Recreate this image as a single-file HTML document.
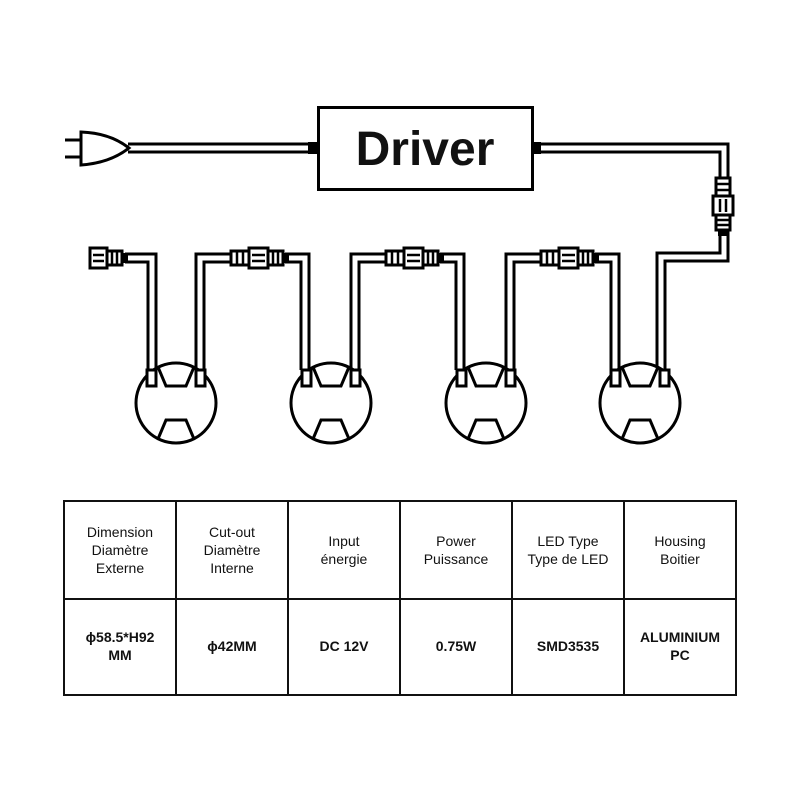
<!DOCTYPE html>
<html><head><meta charset="utf-8"><style>
body{margin:0;background:#fff;width:800px;height:800px;overflow:hidden;font-family:"Liberation Sans",sans-serif}
table{position:absolute;left:63px;top:500px;border-collapse:collapse;table-layout:fixed;width:674px}
td{border:2px solid #111;text-align:center;font-size:14px;line-height:18px;color:#111;padding:0;box-sizing:border-box}
tr.h td{height:98px;padding-bottom:0px}
tr.v td{height:96px;font-weight:bold;padding-bottom:2px}
</style></head><body>
<svg width="800" height="500" style="position:absolute;left:0;top:0">
<defs>
<g id="conn">
 <rect x="-27" y="-7" width="18" height="14" fill="#fff" stroke="#000" stroke-width="3"/>
 <line x1="-21" y1="-6" x2="-21" y2="6" stroke="#000" stroke-width="2.5"/>
 <line x1="-15" y1="-6" x2="-15" y2="6" stroke="#000" stroke-width="2.5"/>
 <rect x="-9" y="-10" width="19" height="20" fill="#fff" stroke="#000" stroke-width="3"/>
 <line x1="-6" y1="-3" x2="7" y2="-3" stroke="#000" stroke-width="2.5"/>
 <line x1="-6" y1="3" x2="7" y2="3" stroke="#000" stroke-width="2.5"/>
 <rect x="10" y="-7" width="15" height="14" fill="#fff" stroke="#000" stroke-width="3"/>
 <line x1="15" y1="-6" x2="15" y2="6" stroke="#000" stroke-width="2.5"/>
 <line x1="20" y1="-6" x2="20" y2="6" stroke="#000" stroke-width="2.5"/>
 <rect x="25" y="-5" width="6" height="10" fill="#000"/>
</g>
<g id="lamp">
 <circle cx="0" cy="0" r="40" fill="#fff" stroke="#000" stroke-width="3"/>
 <path d="M-18,-36 L-10,-17 L10,-17 L18,-36" fill="none" stroke="#000" stroke-width="3"/>
 <path d="M-18,36 L-10,17 L10,17 L18,36" fill="none" stroke="#000" stroke-width="3"/>
 <rect x="-29" y="-33" width="9" height="16" fill="#fff" stroke="#000" stroke-width="3"/>
 <rect x="20" y="-33" width="9" height="16" fill="#fff" stroke="#000" stroke-width="3"/>
</g>
</defs>
<g fill="none" stroke-linejoin="miter">
<g stroke="#000" stroke-width="11">
 <path d="M128,148 H312"/>
 <path d="M538,148 H724 V257 H661 V370"/>
 <path d="M125,258 H152 V370"/>
 <path d="M200,370 V258 H230"/>
 <path d="M285,258 H305 V370"/>
 <path d="M355,370 V258 H385"/>
 <path d="M440,258 H460 V370"/>
 <path d="M510,370 V258 H540"/>
 <path d="M595,258 H615 V370"/>
</g>
<g stroke="#fff" stroke-width="5">
 <path d="M128,148 H312"/>
 <path d="M538,148 H724 V257 H661 V370"/>
 <path d="M125,258 H152 V370"/>
 <path d="M200,370 V258 H230"/>
 <path d="M285,258 H305 V370"/>
 <path d="M355,370 V258 H385"/>
 <path d="M440,258 H460 V370"/>
 <path d="M510,370 V258 H540"/>
 <path d="M595,258 H615 V370"/>
</g>
</g>
<rect x="308" y="142" width="10" height="12" fill="#000"/>
<rect x="533" y="142" width="8" height="12" fill="#000"/>
<line x1="65" y1="140" x2="82" y2="140" stroke="#000" stroke-width="3"/>
<line x1="65" y1="157" x2="82" y2="157" stroke="#000" stroke-width="3"/>
<path d="M81,132 Q110,133 129,148 Q110,163 81,165 Z" fill="#fff" stroke="#000" stroke-width="3"/>
<rect x="318.5" y="107.5" width="214" height="82" fill="#fff" stroke="#000" stroke-width="3"/>
<text x="425" y="165" text-anchor="middle" font-family="Liberation Sans, sans-serif" font-weight="bold" font-size="48" fill="#111">Driver</text>
<use href="#conn" transform="translate(258,258)"/>
<use href="#conn" transform="translate(413,258)"/>
<use href="#conn" transform="translate(568,258)"/>
<use href="#conn" transform="translate(723,205) rotate(90)"/>
<g transform="translate(88,258)">
 <rect x="2" y="-10" width="17" height="20" fill="#fff" stroke="#000" stroke-width="3"/>
 <line x1="5" y1="-3" x2="16" y2="-3" stroke="#000" stroke-width="2.5"/>
 <line x1="5" y1="3" x2="16" y2="3" stroke="#000" stroke-width="2.5"/>
 <rect x="19" y="-7" width="15" height="14" fill="#fff" stroke="#000" stroke-width="3"/>
 <line x1="24" y1="-6" x2="24" y2="6" stroke="#000" stroke-width="2.5"/>
 <line x1="29" y1="-6" x2="29" y2="6" stroke="#000" stroke-width="2.5"/>
 <rect x="34" y="-5" width="6" height="10" fill="#000"/>
</g>
<use href="#lamp" transform="translate(176,403)"/>
<use href="#lamp" transform="translate(331,403)"/>
<use href="#lamp" transform="translate(486,403)"/>
<use href="#lamp" transform="translate(640,403)"/>
</svg>
<table>
<tr class="h"><td>Dimension<br>Diamètre<br>Externe</td><td>Cut-out<br>Diamètre<br>Interne</td><td>Input<br>énergie</td><td>Power<br>Puissance</td><td>LED Type<br>Type de LED</td><td>Housing<br>Boitier</td></tr>
<tr class="v"><td>ɸ58.5*H92<br>MM</td><td>ɸ42MM</td><td>DC 12V</td><td>0.75W</td><td>SMD3535</td><td>ALUMINIUM<br>PC</td></tr>
</table>
</body></html>
